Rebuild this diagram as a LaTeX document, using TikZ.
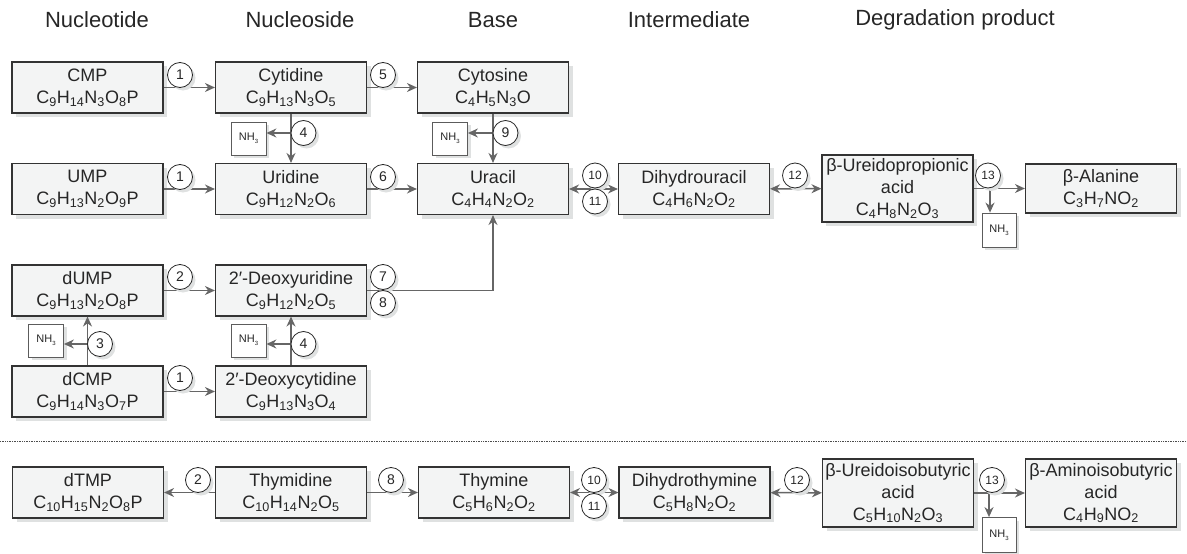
\documentclass[tikz,border=0pt]{standalone}
\usepackage{fontspec}
\setmainfont{Liberation Sans}
\usetikzlibrary{arrows.meta,shadows}
\definecolor{boxfill}{HTML}{F3F4F4}
\definecolor{boxline}{HTML}{333333}
\definecolor{shad}{HTML}{DFE1E1}
\definecolor{arrc}{HTML}{666666}
\newcommand\sbs[1]{\textsubscript{#1}}
\newcommand\nhthree{NH\raisebox{-3pt}{\fontsize{6}{6}\selectfont 3}}
\tikzset{
 cbox/.style={draw=boxline, line width=1.1pt, fill=boxfill, align=center, inner xsep=1pt, inner ysep=0pt,
   font=\fontsize{18}{22}\selectfont, text=black!85,
   drop shadow={shadow xshift=4pt, shadow yshift=-4pt, fill=shad, opacity=1}},
 nbox/.style={cbox, minimum width=151pt, minimum height=51pt},
 tbox/.style={cbox, minimum width=151pt, minimum height=67pt},
 nhbox/.style={draw=boxline!80, line width=0.8pt, fill=white, minimum width=35pt, minimum height=33pt, inner sep=0pt,
   font=\fontsize{11}{12}\selectfont, text=black!85,
   drop shadow={shadow xshift=3pt, shadow yshift=-3pt, fill=shad, opacity=1}},
 num/.style={circle, draw=black!85, line width=0.8pt, fill=white, minimum size=25pt, inner sep=0pt,
   font=\fontsize{14}{14}\selectfont, text=black!85,
   drop shadow={shadow xshift=3pt, shadow yshift=-3pt, fill=shad, opacity=1}},
 numb/.style={num, font=\fontsize{12}{12}\selectfont},
 arr/.style={draw=arrc, line width=1.5pt, -{Stealth[length=10pt,width=9pt]}},
 darr/.style={draw=arrc, line width=1.5pt, {Stealth[length=10pt,width=9pt]}-{Stealth[length=10pt,width=9pt]}},
 hdr/.style={font=\fontsize{22}{24}\selectfont, text=black!85},
 sep/.style={draw=black!70, line width=0.7pt, densely dotted}
}
\begin{document}
\begin{tikzpicture}[x=1pt,y=-1pt]
\useasboundingbox (0,0) rectangle (1187,554);
% headers
\node[hdr] (h1) at (97,20) {Nucleotide};
\node[hdr] (h2) at (300,20) {Nucleoside};
\node[hdr] (h3) at (493,20) {Base};
\node[hdr] (h4) at (689,20) {Intermediate};
\node[hdr] (h5) at (955,20) {Degradation product};
% boxes
\node[nbox] (cmp) at (87.5,87.5) {CMP\\C\sbs{9}H\sbs{14}N\sbs{3}O\sbs{8}P};
\node[nbox] (cytidine) at (291,87.5) {Cytidine\\C\sbs{9}H\sbs{13}N\sbs{3}O\sbs{5}};
\node[nbox] (cytosine) at (493,87.5) {Cytosine\\C\sbs{4}H\sbs{5}N\sbs{3}O};
\node[nbox] (ump) at (87.5,189) {UMP\\C\sbs{9}H\sbs{13}N\sbs{2}O\sbs{9}P};
\node[nbox] (uridine) at (291,189) {Uridine\\C\sbs{9}H\sbs{12}N\sbs{2}O\sbs{6}};
\node[nbox] (uracil) at (493,189) {Uracil\\C\sbs{4}H\sbs{4}N\sbs{2}O\sbs{2}};
\node[nbox] (dhu) at (694,189) {Dihydrouracil\\C\sbs{4}H\sbs{6}N\sbs{2}O\sbs{2}};
\node[tbox] (urp) at (897.5,188.5) {β-Ureidopropionic\\acid\\C\sbs{4}H\sbs{8}N\sbs{2}O\sbs{3}};
\node[nbox, minimum height=49pt] (ala) at (1101,188.5) {β-Alanine\\C\sbs{3}H\sbs{7}NO\sbs{2}};
\node[nbox] (dump) at (87.5,290.5) {dUMP\\C\sbs{9}H\sbs{13}N\sbs{2}O\sbs{8}P};
\node[nbox] (dur) at (291,290.5) {2′-Deoxyuridine\\C\sbs{9}H\sbs{12}N\sbs{2}O\sbs{5}};
\node[nbox] (dcmp) at (87.5,391.5) {dCMP\\C\sbs{9}H\sbs{14}N\sbs{3}O\sbs{7}P};
\node[nbox] (dcyt) at (291,391.5) {2′-Deoxycytidine\\C\sbs{9}H\sbs{13}N\sbs{3}O\sbs{4}};
\node[nbox] (dtmp) at (88,492.5) {dTMP\\C\sbs{10}H\sbs{15}N\sbs{2}O\sbs{8}P};
\node[nbox] (thd) at (291,492.5) {Thymidine\\C\sbs{10}H\sbs{14}N\sbs{2}O\sbs{5}};
\node[nbox] (thy) at (494,492.5) {Thymine\\C\sbs{5}H\sbs{6}N\sbs{2}O\sbs{2}};
\node[nbox] (dht) at (694.5,492.5) {Dihydrothymine\\C\sbs{5}H\sbs{8}N\sbs{2}O\sbs{2}};
\node[tbox, minimum height=68pt] (uib) at (898,493) {β-Ureidoisobutyric\\acid\\C\sbs{5}H\sbs{10}N\sbs{2}O\sbs{3}};
\node[tbox, minimum height=68pt] (aib) at (1101,493) {β-Aminoisobutyric\\acid\\C\sbs{4}H\sbs{9}NO\sbs{2}};
% NH3 boxes
\node[nhbox] (nh1) at (248.5,138.5) {\nhthree};
\node[nhbox] (nh2) at (450,138.5) {\nhthree};
\node[nhbox, minimum width=34pt, minimum height=34pt] (nh3) at (999,230) {\nhthree};
\node[nhbox] (nh4) at (46,340.5) {\nhthree};
\node[nhbox] (nh5) at (248.5,340.5) {\nhthree};
\node[nhbox, minimum width=34pt, minimum height=35pt] (nh6) at (999,535) {\nhthree};
% junctions
\coordinate (j1) at (291,133);
\coordinate (j2) at (493,133);
\coordinate (j3) at (990,188.5);
\coordinate (j4) at (87.5,344);
\coordinate (j5) at (291,344);
\coordinate (j6) at (989,493);
\coordinate (sl) at (0,441);
\coordinate (sr) at (1187,441);
% connectors
\draw[arr] (cmp) -- (cytidine);
\draw[arr] (cytidine) -- (cytosine);
\draw[arr] (cytidine) -- (uridine);
\draw[arr] (j1) -- (j1 -| nh1.east);
\draw[arr] (cytosine) -- (uracil);
\draw[arr] (j2) -- (j2 -| nh2.east);
\draw[arr] (ump) -- (uridine);
\draw[arr] (uridine) -- (uracil);
\draw[darr] (uracil) -- (dhu);
\draw[darr] (dhu) -- (urp);
\draw[arr] (urp) -- (ala);
\draw[arr] (j3) -- (j3 |- nh3.north);
\draw[arr] (dump) -- (dur);
\draw[arr] (dcmp) -- (dcyt);
\draw[arr] (dcmp) -- (dump);
\draw[arr] (j4) -- (j4 -| nh4.east);
\draw[arr] (dcyt) -- (dur);
\draw[arr] (j5) -- (j5 -| nh5.east);
\draw[arr] (dur.east) -| (uracil.south);
\draw[sep] (sl) -- (sr);
\draw[arr] (thd) -- (dtmp);
\draw[arr] (thd) -- (thy);
\draw[darr] (thy) -- (dht);
\draw[darr] (dht) -- (uib);
\draw[arr] (uib) -- (aib);
\draw[arr] (j6) -- (j6 |- nh6.north);
% number circles
\node[num] (c1a) at (180,75) {1};
\node[num] (c5) at (383,75) {5};
\node[num] (c4a) at (303.5,133) {4};
\node[num] (c9) at (505.5,133) {9};
\node[num] (c1b) at (180,177) {1};
\node[num] (c6) at (383,177) {6};
\node[numb] (c10a) at (595,175.5) {10};
\node[numb] (c11a) at (595,201.5) {11};
\node[numb] (c12a) at (795,175.5) {12};
\node[numb] (c13a) at (988,175.5) {13};
\node[num] (c2a) at (180,277) {2};
\node[num] (c7) at (383,277) {7};
\node[num] (c8a) at (383,303) {8};
\node[num] (c3) at (100,344) {3};
\node[num] (c4b) at (303.5,344) {4};
\node[num] (c1c) at (180,378) {1};
\node[num] (c2b) at (198,480) {2};
\node[num] (c8b) at (391,480) {8};
\node[numb] (c10b) at (594,480) {10};
\node[numb] (c11b) at (594,506) {11};
\node[numb] (c12b) at (797,480) {12};
\node[numb] (c13b) at (992,480) {13};
\end{tikzpicture}
\end{document}
